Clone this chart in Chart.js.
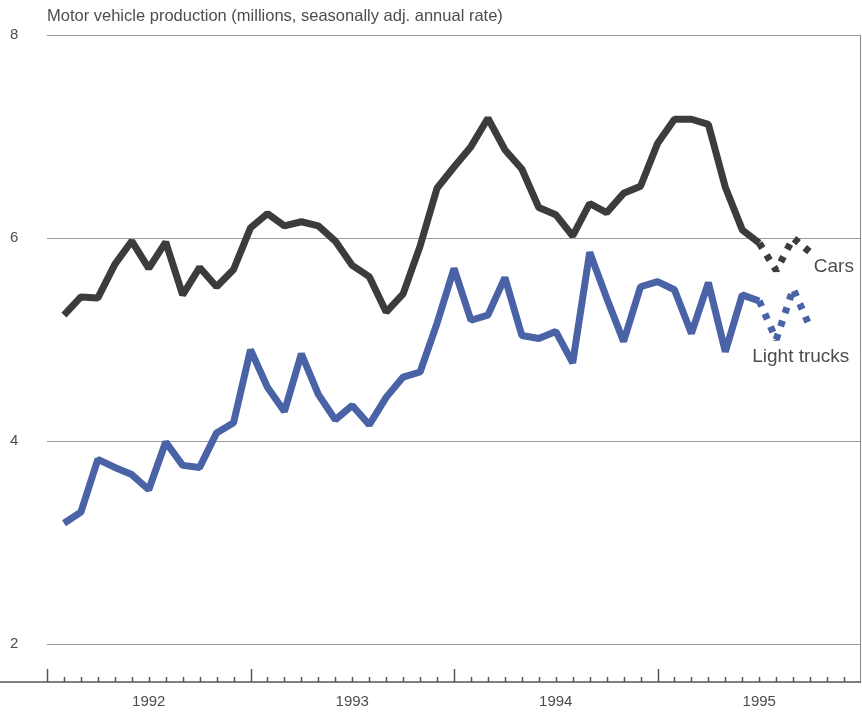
<!DOCTYPE html>
<html lang="en">
<head>
<meta charset="UTF-8">
<title>Motor vehicle production</title>
<script src="https://cdn.jsdelivr.net/npm/chart.js"></script>
<style>
  html, body { margin: 0; padding: 0; background: #fff; }
  #chart { display: block; }
</style>
</head>
<body>
<canvas id="chart" width="862" height="713"></canvas>
<script>
// monthly data, Jan 1992 .. Sep 1995 (last three months are estimates, drawn dotted)
const months = [
  "1992-01","1992-02","1992-03","1992-04","1992-05","1992-06","1992-07","1992-08","1992-09","1992-10","1992-11","1992-12",
  "1993-01","1993-02","1993-03","1993-04","1993-05","1993-06","1993-07","1993-08","1993-09","1993-10","1993-11","1993-12",
  "1994-01","1994-02","1994-03","1994-04","1994-05","1994-06","1994-07","1994-08","1994-09","1994-10","1994-11","1994-12",
  "1995-01","1995-02","1995-03","1995-04","1995-05","1995-06","1995-07","1995-08","1995-09"
];
const cars = [
  5.24, 5.42, 5.41, 5.74, 5.97, 5.70, 5.96, 5.44, 5.71, 5.52, 5.69, 6.10,
  6.24, 6.12, 6.16, 6.12, 5.97, 5.73, 5.62, 5.27, 5.45, 5.92, 6.49, 6.70,
  6.90, 7.18, 6.87, 6.68, 6.30, 6.23, 6.02, 6.34, 6.25, 6.44, 6.51, 6.93,
  7.17, 7.17, 7.12, 6.50, 6.08, 5.95, 5.68, 6.00, 5.86
];
const lightTrucks = [
  3.19, 3.30, 3.82, 3.74, 3.67, 3.52, 3.99, 3.76, 3.74, 4.08, 4.18, 4.90,
  4.53, 4.29, 4.86, 4.46, 4.21, 4.35, 4.16, 4.43, 4.63, 4.68, 5.16, 5.70,
  5.19, 5.24, 5.61, 5.04, 5.01, 5.08, 4.77, 5.86, 5.41, 4.98, 5.52, 5.57,
  5.49, 5.06, 5.56, 4.88, 5.44, 5.38, 5.00, 5.50, 5.12
];
const firstEstimate = 42;          // index of "1995-07"
const years = ["1992", "1993", "1994", "1995"];
const yTicks = [2, 4, 6, 8];
const titleText = "Motor vehicle production (millions, seasonally adj. annual rate)";

const textColor = "#4d4d4d";
const font = "'Liberation Sans', Arial, sans-serif";

// x position: month number counted from Jan 1992, point plotted at month end
function monthPos(label) {
  const [y, m] = label.split("-").map(Number);
  return (y - 1992) * 12 + m;
}
function toPoints(values) {
  return values.map((v, i) => ({ x: monthPos(months[i]), y: v }));
}

const dotted = ctx => ctx.p1DataIndex >= firstEstimate ? [6, 8] : undefined;

const overlay = {
  id: "overlay",
  afterDraw(chart) {
    const { ctx, chartArea, scales } = chart;
    const x = scales.x, y = scales.y;
    ctx.save();

    // title
    ctx.fillStyle = textColor;
    ctx.font = "16.5px " + font;
    ctx.textAlign = "left";
    ctx.textBaseline = "middle";
    ctx.fillText(titleText, chartArea.left, 16);

    // right border
    ctx.strokeStyle = "#888";
    ctx.lineWidth = 1;
    ctx.beginPath();
    ctx.moveTo(chartArea.right - 0.5, chartArea.top);
    ctx.lineTo(chartArea.right - 0.5, chartArea.bottom);
    ctx.stroke();

    // time axis with monthly ticks
    const base = chartArea.bottom;
    ctx.strokeStyle = "#555";
    ctx.lineWidth = 1.5;
    ctx.beginPath();
    ctx.moveTo(0, base);
    ctx.lineTo(chartArea.right, base);
    for (let m = 0; m < 48; m++) {
      const px = Math.round(x.getPixelForValue(m)) + 0.5;
      const len = m % 12 === 0 ? 13 : 5;
      ctx.moveTo(px, base);
      ctx.lineTo(px, base - len);
    }
    ctx.stroke();

    // year labels, centred on each year
    ctx.font = "15px " + font;
    ctx.textAlign = "center";
    years.forEach((yr, i) => {
      ctx.fillText(yr, x.getPixelForValue(i * 12 + 6), base + 20);
    });

    // series labels
    ctx.font = "19px " + font;
    ctx.fillText("Cars", x.getPixelForValue(46.4), y.getPixelForValue(5.72));
    ctx.fillText("Light trucks", x.getPixelForValue(44.45), y.getPixelForValue(4.83));
    ctx.restore();
  }
};

new Chart(document.getElementById("chart"), {
  type: "line",
  data: {
    datasets: [
      {
        label: "Cars",
        data: toPoints(cars),
        borderColor: "#3c3c3c",
        borderWidth: 7,
        borderJoinStyle: "bevel",
        pointRadius: 0,
        tension: 0,
        segment: { borderDash: dotted }
      },
      {
        label: "Light trucks",
        data: toPoints(lightTrucks),
        borderColor: "#4a63a6",
        borderWidth: 7,
        borderJoinStyle: "bevel",
        pointRadius: 0,
        tension: 0,
        segment: { borderDash: dotted }
      }
    ]
  },
  options: {
    responsive: false,
    devicePixelRatio: 1,
    animation: false,
    layout: { padding: { top: 35, right: 1, left: 10, bottom: 31 } },
    plugins: {
      legend: { display: false },
      tooltip: { enabled: false }
    },
    scales: {
      x: {
        type: "linear",
        display: false,
        min: 0,
        max: 48
      },
      y: {
        min: 1.626,
        max: 8,
        grid: { color: "#9a9a9a", lineWidth: 1, drawTicks: false },
        border: { display: false },
        afterBuildTicks: scale => {
          scale.ticks = yTicks.map(v => ({ value: v }));
        },
        afterFit: scale => { scale.width = 37; },
        ticks: {
          padding: 0,
          crossAlign: "far",
          color: textColor,
          font: { family: font, size: 15 }
        }
      }
    }
  },
  plugins: [overlay]
});
</script>
</body>
</html>
